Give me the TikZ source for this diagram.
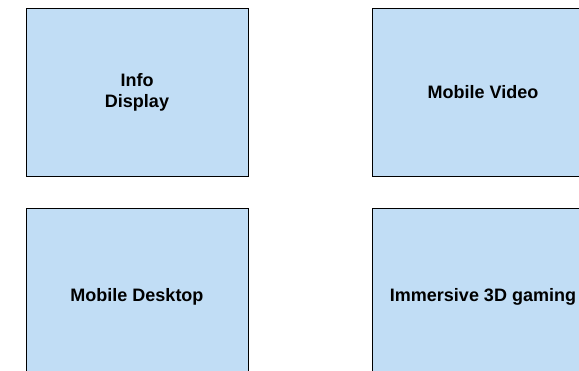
\documentclass[tikz,border=0pt]{standalone}
\usepackage{fontspec}
\setmainfont{Liberation Sans}
\definecolor{boxfill}{RGB}{193,221,245}
\begin{document}
\begin{tikzpicture}[x=1pt,y=-1pt,
  panel/.style={draw=black,line width=1pt,fill=boxfill,minimum width=222pt,minimum height=168pt,inner sep=0pt,
    font=\fontsize{18}{21}\selectfont\bfseries,align=center,anchor=north west}]
\useasboundingbox (0,0) rectangle (579,370);
\clip (0,0) rectangle (579,370);
\node[panel] (info) at (25.5,8) {Info\\Display};
\node[panel] (video) at (371.5,8) {Mobile Video};
\node[panel,minimum height=176pt] (desktop) at (25.5,208) {Mobile Desktop};
\node[panel,minimum height=176pt] (gaming) at (371.5,208) {Immersive 3D gaming};
\end{tikzpicture}
\end{document}
